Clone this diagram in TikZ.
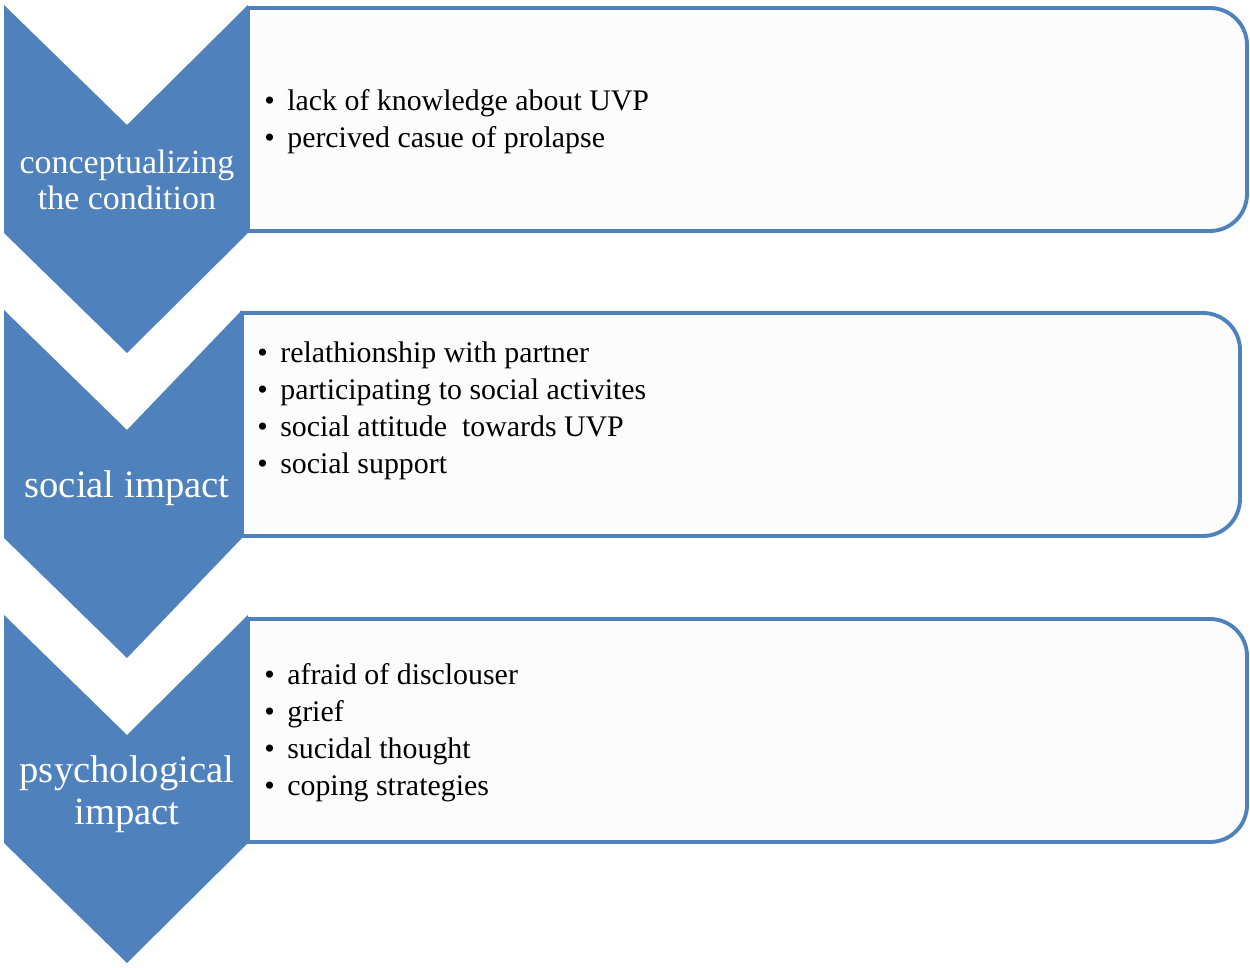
\documentclass[tikz,border=0pt]{standalone}
\usepackage{fontspec}
\setmainfont{Liberation Serif}
\definecolor{chevblue}{HTML}{4F81BD}
\newcommand\itm{\makebox[0.46cm][l]{\textbullet}}
\begin{document}
\begin{tikzpicture}[
  chevron/.style={fill=chevblue},
  itembox/.style={draw=chevblue,line width=2.2pt,fill=black!1},
  steplabel/.style={text=white,align=center,inner sep=0pt,font=\fontsize{22}{24}\selectfont},
  itemlist/.style={anchor=west,align=left,inner sep=0pt,font=\fontsize{17}{21}\selectfont}]
\useasboundingbox (0,0) rectangle (25,19.34);
\fill[chevron] (0.08,19.24) --(2.54,16.84) --(4.96,19.24) --(4.96,14.68) --(2.54,12.28) --(0.08,14.68)--cycle;
\fill[chevron] (0.08,13.14) --(2.54,10.74) --(4.84,13.14) --(4.84,8.58) --(2.54,6.18) --(0.08,8.58)--cycle;
\fill[chevron] (0.08,7.04) --(2.54,4.64) --(4.96,7.04) --(4.96,2.48) --(2.54,0.08) --(0.08,2.48)--cycle;

\draw[itembox] (4.96,19.18) --(24.2,19.18) arc[start angle=90,end angle=0,radius=0.74] --(24.94,15.46) arc[start angle=0,end angle=-90,radius=0.74] --(4.96,14.72) --cycle;
\draw[itembox] (4.84,13.08) --(24.06,13.08) arc[start angle=90,end angle=0,radius=0.74] --(24.8,9.36) arc[start angle=0,end angle=-90,radius=0.74] --(4.84,8.62) --cycle;
\draw[itembox] (4.96,6.96) --(24.2,6.96) arc[start angle=90,end angle=0,radius=0.74] --(24.94,3.24) arc[start angle=0,end angle=-90,radius=0.74] --(4.96,2.5) --cycle;

\node[steplabel,font=\fontsize{19.3}{20.5}\selectfont] (cond) at (2.54,15.74) {conceptualizing\\the condition};
\node[steplabel] (social) at (2.54,9.58) {social impact};
\node[steplabel] (psych) at (2.54,3.46) {psychological\\impact};

\node[itemlist] (condlist) at (5.28,16.91) {\itm lack of knowledge about UVP\\\itm percived casue of prolapse};
\node[itemlist] (sociallist) at (5.14,11.12) {\itm relathionship with partner\\\itm participating to social activites\\\itm social attitude\ \ towards UVP\\\itm social support};
\node[itemlist] (psychlist) at (5.28,4.69) {\itm afraid of disclouser\\\itm grief\\\itm sucidal thought\\\itm coping strategies};
\end{tikzpicture}
\end{document}
